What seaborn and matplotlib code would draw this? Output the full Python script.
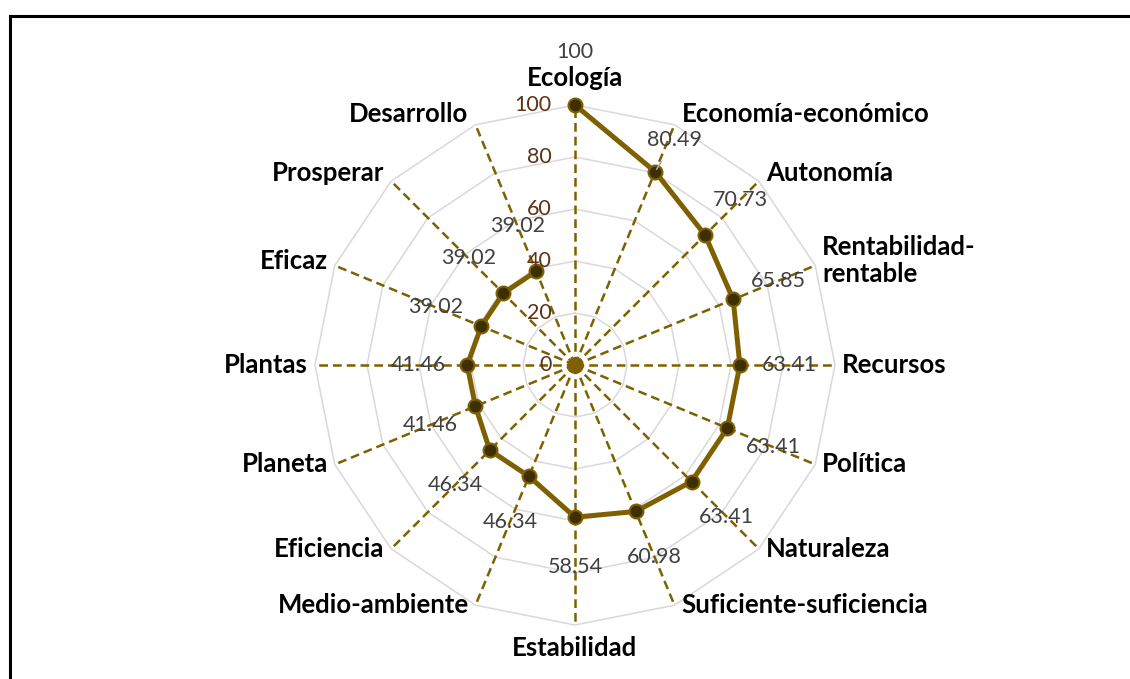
import numpy as np
import pandas as pd
import matplotlib
matplotlib.use("Agg")
import matplotlib.pyplot as plt
import seaborn as sns
from matplotlib.patches import Rectangle

categories = ["Ecología", "Economía-económico", "Autonomía", "Rentabilidad-\nrentable",
              "Recursos", "Política", "Naturaleza", "Suficiente-suficiencia",
              "Estabilidad", "Medio-ambiente", "Eficiencia", "Planeta",
              "Plantas", "Eficaz", "Prosperar", "Desarrollo"]
values = [100, 80.49, 70.73, 65.85, 63.41, 63.41, 63.41, 60.98,
          58.54, 46.34, 46.34, 41.46, 41.46, 39.02, 39.02, 39.02]
value_labels = ["100", "80.49", "70.73", "65.85", "63.41", "63.41", "63.41", "60.98",
                "58.54", "46.34", "46.34", "41.46", "41.46", "39.02", "39.02", "39.02"]
ring_levels = [20, 40, 60, 80, 100]
tick_levels = [0, 20, 40, 60, 80, 100]

sns.set_style("white")
plt.rcParams["font.family"] = ["Lato", "DejaVu Sans"]

GOLD = "#7f6000"
DARK = "#3d2f00"
GRAY_TXT = "#404040"
BROWN = "#5c3317"

n = len(categories)
theta = np.arange(n) * 2 * np.pi / n

fig = plt.figure(figsize=(11.3, 6.79), dpi=100)
ax = fig.add_axes([0, 0, 1, 1])
scale = 2.6  # px per unit
ax.set_xlim(-575 / scale, (1130 - 575) / scale)
ax.set_ylim(-(679 - 365) / scale, 365 / scale)
ax.axis("off")

# grid rings (polygons)
for lv in ring_levels:
    xs = lv * np.sin(np.append(theta, theta[0]))
    ys = lv * np.cos(np.append(theta, theta[0]))
    ax.plot(xs, ys, color="#d9d9d9", lw=1.1, zorder=1)

# dashed spokes
for t in theta:
    ax.plot([0, 100 * np.sin(t)], [0, 100 * np.cos(t)], color=GOLD, lw=1.8,
            ls=(0, (3.5, 2)), zorder=2)
ax.plot([0], [0], "o", color=GOLD, ms=11, zorder=5)

# data polygon
df = pd.DataFrame({"x": np.append(np.array(values) * np.sin(theta), values[0] * np.sin(theta[0])),
                   "y": np.append(np.array(values) * np.cos(theta), values[0] * np.cos(theta[0]))})
sns.lineplot(data=df, x="x", y="y", sort=False, ax=ax, color=GOLD, lw=3.6,
             marker="o", markersize=10, markerfacecolor=DARK, markeredgecolor=GOLD,
             markeredgewidth=1.5, zorder=4)

# axis tick labels
for lv in tick_levels:
    ax.text(-9, lv, str(lv), ha="right", va="center", color=BROWN, fontsize=15.5, zorder=6)

# data labels (the crowded one near the top gets a short leader line)
for t, v, lab, cat in zip(theta, values, value_labels, categories):
    s, c = np.sin(t), np.cos(t)
    if cat == "Economía-económico":
        ax.annotate(lab, (v * s, v * c), xytext=(v * s + 7.5, v * c + 12),
                    ha="center", va="center", color=GRAY_TXT, fontsize=15.5, zorder=6,
                    arrowprops=dict(arrowstyle="-", color="#a6a6a6", lw=1.2,
                                    shrinkA=7, shrinkB=2))
    else:
        r = v + (20.5 if c > 0.99 else 19)
        ax.text(r * s, r * c, lab, ha="center", va="center",
                color=GRAY_TXT, fontsize=15.5, zorder=6)

# category labels
for t, cat in zip(theta, categories):
    s, c = np.sin(t), np.cos(t)
    x0, y0 = 100 * s, 100 * c
    if abs(s) < 1e-6:
        dy = 27 if c > 0 else -23
        ax.annotate(cat, (x0, y0), xytext=(0, dy), textcoords="offset pixels",
                    ha="center", va="center", fontsize=18.5, fontweight="bold", color="black")
    else:
        dx = 7 if s > 0 else -7
        dy = 12 * max(c, 0)
        ax.annotate(cat, (x0, y0), xytext=(dx, dy), textcoords="offset pixels",
                    ha="left" if s > 0 else "right", va="center", fontsize=18.5,
                    fontweight="bold", color="black", linespacing=1.15)

# outer frame
fig.patches.append(Rectangle((9.5 / 1130, -0.1), 1.2, (679 - 15.5) / 679 + 0.1,
                             transform=fig.transFigure, fill=False, edgecolor="black",
                             lw=2.2, zorder=10))

fig.savefig("out.png", dpi=100)
